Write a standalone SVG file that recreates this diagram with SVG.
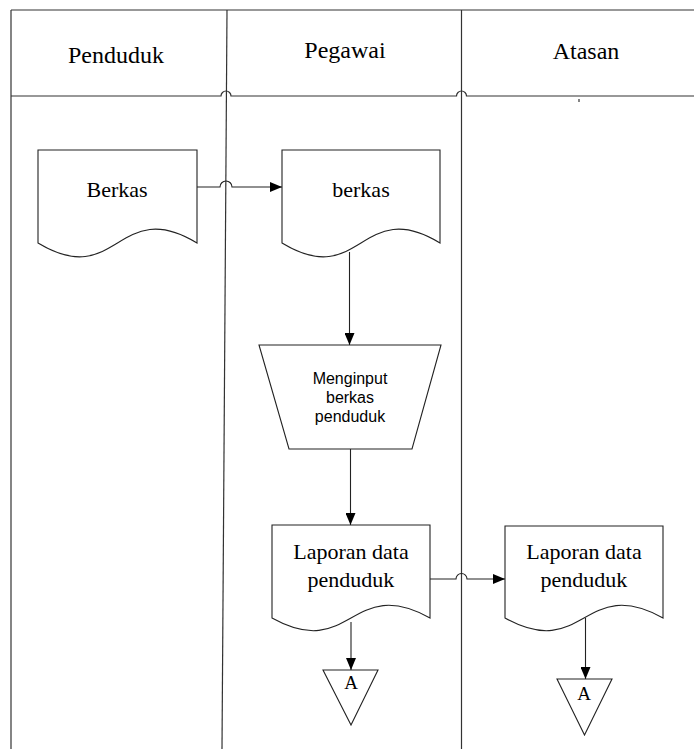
<svg xmlns="http://www.w3.org/2000/svg" width="694" height="749" viewBox="0 0 694 749">
<style>
.lane{fill:none;stroke:#333;stroke-width:1.2}
.shape{fill:#fff;stroke:#222;stroke-width:1.1}
.conn{fill:none;stroke:#222;stroke-width:1.1}
.hd{font-family:"Liberation Serif","Times New Roman",serif;font-size:24px;fill:#000;text-anchor:middle}
.tx{font-family:"Liberation Serif","Times New Roman",serif;font-size:22px;fill:#000;text-anchor:middle}
.sx{font-family:"Liberation Sans",Arial,sans-serif;font-size:16px;fill:#000;text-anchor:middle}
.ax{font-family:"Liberation Serif","Times New Roman",serif;font-size:19px;fill:#000;text-anchor:middle}
</style>
<defs>
<marker id="arr" markerWidth="12" markerHeight="10" refX="12" refY="5" orient="auto" markerUnits="userSpaceOnUse">
<path d="M0,0 L12,5 L0,10 Z" fill="#000"/>
</marker>
</defs>
<rect width="694" height="749" fill="#fff"/>
<g id="lanes">
<line class="lane" x1="11" y1="10" x2="694" y2="10"/>
<line class="lane" x1="11" y1="10" x2="11" y2="749"/>
<line class="lane" x1="227" y1="10" x2="222" y2="749"/>
<line class="lane" x1="461.5" y1="10" x2="461.5" y2="749"/>
<path class="lane" d="M11,96 H221 A5,5 0 0 1 231,96 H456.5 A5,5 0 0 1 466.5,96 H694"/>
<line class="lane" x1="579" y1="99" x2="579" y2="102" stroke-width="1"/>
</g>
<g id="header-penduduk"><text class="hd" x="116" y="63">Penduduk</text></g>
<g id="header-pegawai"><text class="hd" x="345" y="58">Pegawai</text></g>
<g id="header-atasan"><text class="hd" x="586" y="59">Atasan</text></g>
<g id="connectors">
<path class="conn" d="M197,187 H220 A6,6 0 0 1 232,187 H282" marker-end="url(#arr)"/>
<path class="conn" d="M349.5,252 V345" marker-end="url(#arr)"/>
<path class="conn" d="M350.5,449 V525" marker-end="url(#arr)"/>
<path class="conn" d="M430,579 H456 A5.5,5.5 0 0 1 467,579 H505" marker-end="url(#arr)"/>
<path class="conn" d="M351,622 V670" marker-end="url(#arr)"/>
<path class="conn" d="M585.5,618 V679" marker-end="url(#arr)"/>
</g>
<g id="doc-berkas-penduduk">
<path class="shape" d="M38,150 H197 V243 C117.5,195 117.5,291 38,243 Z"/>
<text class="tx" x="117" y="197">Berkas</text>
</g>
<g id="doc-berkas-pegawai">
<path class="shape" d="M282,150 H440 V243 C361,195 361,291 282,243 Z"/>
<text class="tx" x="361" y="197">berkas</text>
</g>
<g id="proc-menginput">
<path class="shape" d="M259,345 H441 L412,449 H289 Z"/>
<text class="sx" x="350" y="384">Menginput</text>
<text class="sx" x="350" y="403">berkas</text>
<text class="sx" x="350" y="422">penduduk</text>
</g>
<g id="doc-laporan-pegawai">
<path class="shape" d="M272,525 H430 V618 C351,574 351,662 272,618 Z"/>
<text class="tx" x="351" y="559">Laporan data</text>
<text class="tx" x="351" y="587">penduduk</text>
</g>
<g id="doc-laporan-atasan">
<path class="shape" d="M505,526 H663 V618 C584,574 584,662 505,618 Z"/>
<text class="tx" x="584" y="559">Laporan data</text>
<text class="tx" x="584" y="587">penduduk</text>
</g>
<g id="conn-a-pegawai">
<path class="shape" d="M323,670 H378 L351,725 Z"/>
<text class="ax" x="351" y="689">A</text>
</g>
<g id="conn-a-atasan">
<path class="shape" d="M557,679 H612 L584.5,735 Z"/>
<text class="ax" x="584" y="700">A</text>
</g>
</svg>
